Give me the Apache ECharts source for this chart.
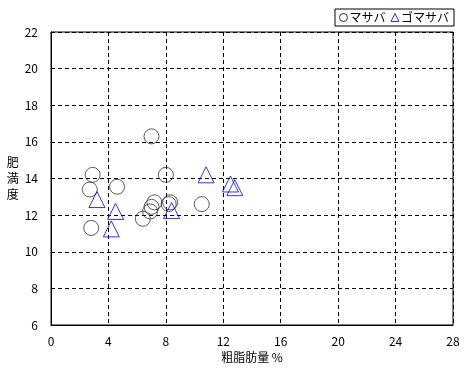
<!DOCTYPE html>
<html><head><meta charset="utf-8">
<script src="https://cdn.jsdelivr.net/npm/echarts@6/dist/echarts.min.js"></script>
<style>html,body{margin:0;padding:0;background:#fff}#c{width:466px;height:370px}</style>
</head><body><div id="c"></div>
<script>
const seriesNames = ['マサバ', 'ゴマサバ'];
const xTicks = [0, 4, 8, 12, 16, 20, 24, 28];
const yTicks = [6, 8, 10, 12, 14, 16, 18, 20, 22];
const masabaX = [7.0, 2.9, 2.7, 4.6, 8.0, 2.8, 10.5, 7.2, 7.0, 6.9, 6.4, 8.3, 8.2];
const masabaY = [16.3, 14.2, 13.4, 13.55, 14.2, 11.3, 12.6, 12.7, 12.45, 12.2, 11.8, 12.7, 12.6];
const gomaX = [3.2, 4.5, 4.2, 8.4, 10.8, 12.5, 12.8];
const gomaY = [12.85, 12.2, 11.25, 12.25, 14.2, 13.7, 13.5];

const font = '"Noto Sans CJK JP", sans-serif';
const chart = echarts.init(document.getElementById('c'));
chart.setOption({
  animation: false,
  backgroundColor: '#fff',
  grid: { left: 51, right: 13, top: 32, bottom: 45, show: true, borderColor: '#000', borderWidth: 1 },
  legend: {
    right: 12, top: 9, orient: 'horizontal',
    borderColor: '#000', borderWidth: 1, padding: [1, 5, 1, 4],
    itemWidth: 8, itemHeight: 8, itemGap: 5,
    textStyle: { fontFamily: font, fontSize: 12, color: '#000', padding: [0, 0, 0, -3], lineHeight: 15 },
    data: [
      { name: seriesNames[0], icon: 'circle', itemStyle: { color: 'transparent', borderColor: '#000', borderWidth: 1 } },
      { name: seriesNames[1], icon: 'triangle', itemStyle: { color: 'transparent', borderColor: '#0000ff', borderWidth: 1 } }
    ]
  },
  xAxis: {
    type: 'value', min: xTicks[0], max: xTicks[xTicks.length - 1], interval: 4,
    name: '粗脂肪量 %', nameLocation: 'middle', nameGap: 25,
    nameTextStyle: { fontFamily: font, fontSize: 12, color: '#000' },
    axisLine: { show: true, lineStyle: { color: '#000' } },
    axisTick: { show: false },
    axisLabel: { fontFamily: font, fontSize: 12, color: '#000', margin: 10 },
    splitLine: { show: true, lineStyle: { color: '#000', type: [4, 3], width: 1 } }
  },
  yAxis: {
    type: 'value', min: yTicks[0], max: yTicks[yTicks.length - 1], interval: 2,
    name: '肥\n満\n度', nameLocation: 'middle', nameGap: 32, nameRotate: 0,
    nameTextStyle: { fontFamily: font, fontSize: 12, color: '#000', lineHeight: 16 },
    axisLine: { show: true, lineStyle: { color: '#000' } },
    axisTick: { show: false },
    axisLabel: { fontFamily: font, fontSize: 12, color: '#000', margin: 13 },
    splitLine: { show: true, lineStyle: { color: '#000', type: [4, 3], width: 1 } }
  },
  series: [
    {
      name: seriesNames[0], type: 'scatter', symbol: 'circle', symbolSize: 15,
      itemStyle: { color: 'transparent', borderColor: '#333', borderWidth: 1 },
      data: masabaX.map((x, i) => [x, masabaY[i]])
    },
    {
      name: seriesNames[1], type: 'scatter', symbol: 'triangle', symbolSize: 16,
      itemStyle: { color: 'transparent', borderColor: '#0000ff', borderWidth: 1 },
      data: gomaX.map((x, i) => [x, gomaY[i]])
    }
  ]
});
</script></body></html>
